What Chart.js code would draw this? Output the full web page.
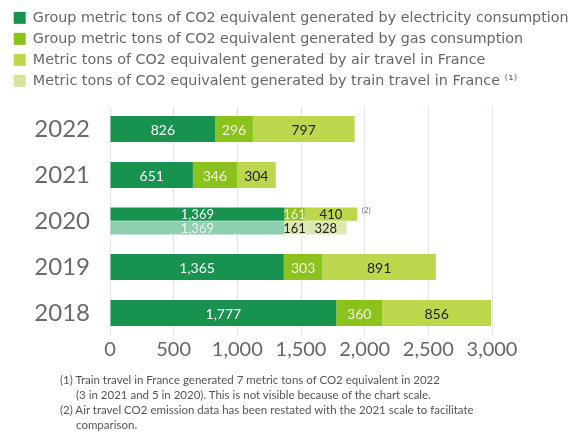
<!DOCTYPE html>
<html>
<head>
<meta charset="utf-8">
<script src="https://cdn.jsdelivr.net/npm/chart.js@4"></script>
<style>
  body { margin: 0; background: #fff; }
  #wrap { position: relative; width: 579px; height: 434px; }
  .note { position: absolute; font-family: Lato, sans-serif; font-size: 11.5px; color: #555; white-space: nowrap; }
</style>
</head>
<body>
<div id="wrap">
  <canvas id="c" width="579" height="434"></canvas>
  <div class="note" style="left:60px; top:373px;">(1) Train travel in France generated 7 metric tons of CO2 equivalent in 2022</div>
  <div class="note" style="left:76px; top:388px;">(3 in 2021 and 5 in 2020). This is not visible because of the chart scale.</div>
  <div class="note" style="left:60px; top:403px;">(2) Air travel CO2 emission data has been restated with the 2021 scale to facilitate</div>
  <div class="note" style="left:76px; top:418px;">comparison.</div>
</div>
<script>
const years = ['2022', '2021', '2020', '2019', '2018'];
const electricity = [826, 651, 1369, 1365, 1777];
const gas = [296, 346, 161, 303, 360];
const airTravel = [797, 304, 410, 891, 856];
const trainTravel = [7, 3, 5, null, null];
// 2020 figures before the air travel restatement
const electricity2020 = [null, null, 1369, null, null];
const gas2020 = [null, null, 161, null, null];
const airTravel2020 = [null, null, 328, null, null];
const barNotes = ['', '', '(2)', '', ''];
const xTicks = [0, 500, 1000, 1500, 2000, 2500, 3000];

const FONT = 'Lato, sans-serif';

const labelsPlugin = {
  id: 'segLabels',
  afterDatasetsDraw(chart) {
    const ctx = chart.ctx;
    ctx.save();
    ctx.textAlign = 'center';
    ctx.textBaseline = 'middle';
    chart.data.datasets.forEach((ds, i) => {
      if (!ds.labelColor) return;
      const meta = chart.getDatasetMeta(i);
      meta.data.forEach((bar, j) => {
        const v = ds.data[j];
        if (v == null) return;
        const size = j === 2 ? 13 : 14;
        ctx.font = size + 'px ' + FONT;
        ctx.fillStyle = ds.labelColor;
        ctx.fillText(v.toLocaleString('en-US'), (bar.x + bar.base) / 2, bar.y + 1);
      });
    });
    // footnote marks after the top stack
    const last = chart.getDatasetMeta(3);
    ctx.font = '8px ' + FONT;
    ctx.fillStyle = '#777';
    ctx.textAlign = 'left';
    barNotes.forEach((n, j) => {
      if (!n) return;
      const bar = last.data[j];
      ctx.fillText(n, bar.x + 4, bar.y - 4);
    });
    ctx.restore();
  }
};

// legend: fixed height, and let it run to the canvas edge
const legendBox = {
  id: 'legendBox',
  beforeInit(chart) {
    const fit = chart.legend.fit;
    chart.legend.fit = function () { fit.call(this); this.height = 102; };
  },
  afterLayout(chart) {
    const lg = chart.legend;
    lg.right = chart.width;
    lg.width = chart.width - lg.left;
  }
};

const common = { stack: 'a', skipNull: true, categoryPercentage: 0.6, barPercentage: 0.95 };

new Chart(document.getElementById('c'), {
  type: 'bar',
  data: {
    labels: years,
    datasets: [
      { ...common, label: 'Group metric tons of CO2 equivalent generated by electricity consumption', data: electricity, backgroundColor: '#18924f', labelColor: '#ffffff' },
      { ...common, label: 'Group metric tons of CO2 equivalent generated by gas consumption', data: gas, backgroundColor: '#8cc21c', labelColor: '#f4f8e0' },
      { ...common, label: 'Metric tons of CO2 equivalent generated by air travel in France', data: airTravel, backgroundColor: '#bcd74b', labelColor: '#222222' },
      { ...common, label: 'Metric tons of CO2 equivalent generated by train travel in France \u207D\u00B9\u207E', data: trainTravel, backgroundColor: '#d6e59e' },
      { ...common, stack: 'b', label: 'e2020', data: electricity2020, backgroundColor: '#8dcfb0', labelColor: '#f2f8f4' },
      { ...common, stack: 'b', label: 'g2020', data: gas2020, backgroundColor: '#dbe8b0', labelColor: '#222222' },
      { ...common, stack: 'b', label: 'a2020', data: airTravel2020, backgroundColor: '#dbe8b0', labelColor: '#222222' }
    ]
  },
  options: {
    indexAxis: 'y',
    responsive: false,
    animation: false,
    locale: 'en-US',
    layout: { padding: { left: 7, right: 87, top: 4, bottom: 68 } },
    plugins: {
      tooltip: { enabled: false },
      legend: {
        position: 'top',
        align: 'start',
        labels: {
          boxWidth: 12, boxHeight: 12, padding: 6.7,
          color: '#666', font: { family: '"DejaVu Sans", sans-serif', size: 14.3 },
          filter: item => item.datasetIndex < 4
        }
      }
    },
    scales: {
      x: {
        stacked: true,
        min: 0, max: 3000,
        afterBuildTicks: s => { s.ticks = xTicks.map(v => ({ value: v })); },
        afterFit: s => { s.height = 30; },
        grid: { color: '#e3e7ef', drawTicks: false },
        border: { display: false },
        ticks: { color: '#666', padding: 2, font: { family: FONT, size: 20 } }
      },
      y: {
        stacked: true,
        afterFit: s => { s.width = 103; },
        grid: { display: false },
        border: { display: false },
        ticks: { color: '#6a6a6a', padding: 12, font: { family: FONT, size: 24 } }
      }
    }
  },
  plugins: [labelsPlugin, legendBox]
});
</script>
</body>
</html>
